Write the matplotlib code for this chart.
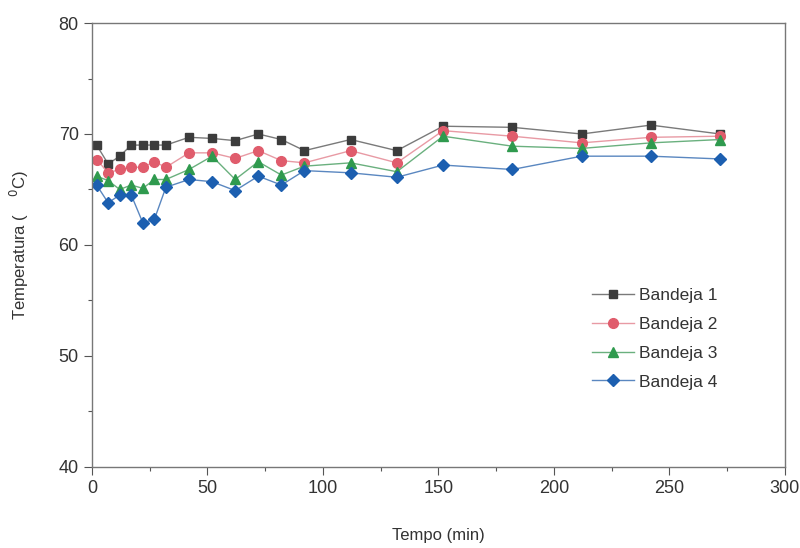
import matplotlib
matplotlib.use("Agg")
import matplotlib.pyplot as plt
import matplotlib.ticker as ticker

plt.rcParams['font.family'] = ['Liberation Sans', 'DejaVu Sans']

# tempo (min)
tempo = [2, 7, 12, 17, 22, 27, 32, 42, 52, 62, 72, 82, 92, 112, 132, 152, 182, 212, 242, 272]

bandeja1 = [69.0, 67.3, 68.0, 69.0, 69.0, 69.0, 69.0, 69.7, 69.6, 69.4, 70.0, 69.5, 68.5,
            69.5, 68.5, 70.7, 70.6, 70.0, 70.8, 70.0]
bandeja2 = [67.7, 66.5, 66.8, 67.0, 67.0, 67.5, 67.0, 68.3, 68.3, 67.8, 68.5, 67.6, 67.4,
            68.5, 67.4, 70.3, 69.8, 69.2, 69.7, 69.8]
bandeja3 = [66.2, 65.8, 65.0, 65.4, 65.1, 65.9, 65.9, 66.8, 68.0, 65.9, 67.5, 66.3, 67.1,
            67.4, 66.6, 69.8, 68.9, 68.7, 69.2, 69.5]
bandeja4 = [65.4, 63.8, 64.5, 64.5, 62.0, 62.3, 65.2, 65.9, 65.7, 64.9, 66.2, 65.4, 66.7,
            66.5, 66.1, 67.2, 66.8, 68.0, 68.0, 67.75]

series = [
    ("Bandeja 1", bandeja1, "s", "#3c3c3c", "#7a7a7a", 6),
    ("Bandeja 2", bandeja2, "o", "#e05c6c", "#e89aa4", 7),
    ("Bandeja 3", bandeja3, "^", "#2f9a4e", "#6ab07e", 7.5),
    ("Bandeja 4", bandeja4, "D", "#1c5fb0", "#5a87c0", 6.5),
]

fig = plt.figure(figsize=(8, 5.48), dpi=100)
ax = fig.add_axes([0.115, 0.148, 0.866, 0.81])

for name, vals, mk, mc, lc, ms in series:
    ax.plot(tempo, vals, color=lc, linewidth=1.0, marker=mk, markersize=ms,
            markerfacecolor=mc, markeredgecolor=mc, label=name)

ax.set_xlim(0, 300)
ax.set_ylim(40, 80)
ax.xaxis.set_major_locator(ticker.MultipleLocator(50))
ax.xaxis.set_minor_locator(ticker.MultipleLocator(25))
ax.yaxis.set_major_locator(ticker.MultipleLocator(10))
ax.yaxis.set_minor_locator(ticker.MultipleLocator(5))
ax.tick_params(which='major', direction='out', length=6, width=0.8, color='#555555',
               labelsize=13, labelcolor='#333333')
ax.tick_params(which='minor', direction='out', length=3, width=0.8, color='#555555')
for sp in ax.spines.values():
    sp.set_color('#777777')
    sp.set_linewidth(1.0)

ax.set_xlabel("Tempo (min)", fontsize=12, color='#333333', labelpad=22)
ax.set_ylabel("Temperatura (    $^{0}$C)", fontsize=12, color='#333333', labelpad=20)

leg = ax.legend(loc='upper left', bbox_to_anchor=(0.712, 0.418), borderaxespad=0,
                frameon=False, fontsize=12.5, handlelength=2.4, labelspacing=0.78,
                handletextpad=0.3)
for t in leg.get_texts():
    t.set_color('#333333')

fig.savefig("out.png", dpi=100)
